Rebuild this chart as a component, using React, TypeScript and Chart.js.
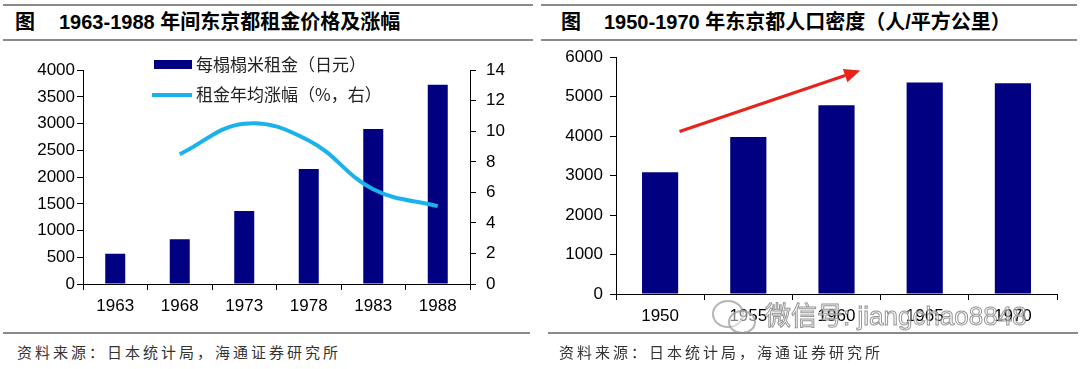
import React, { useEffect, useRef } from "react";
import { Chart, registerables } from "chart.js";

Chart.register(...registerables);

// ---------- data: left chart ----------
const rentYears = ["1963", "1968", "1973", "1978", "1983", "1988"];
const rentPerTatami = [566, 835, 1364, 2151, 2900, 3730];
const rentGrowth = [null, 8.5, 10.5, 9.4, 6.2, 5.1];
const rentLeftAxis = [0, 4000, 500];
const rentRightAxis = [0, 14, 2];
const rentLabels = ["每榻榻米租金（日元）", "租金年均涨幅（%，右）"];

// ---------- data: right chart ----------
const popYears = ["1950", "1955", "1960", "1965", "1970"];
const popDensity = [3084, 3975, 4782, 5362, 5337];
const popAxis = [0, 6000, 1000];
// arrow annotation in data space: [category index, value]
const arrowStart = [0.22, 4117];
const arrowEnd = [2.27, 5665];

const leftTitle = "1963-1988 年间东京都租金价格及涨幅";
const rightTitle = "1950-1970 年东京都人口密度（人/平方公里）";
const sourceText = "资料来源：日本统计局，海通证券研究所";
const watermark = "微信号: jiangchao8848";

const NAVY = "#000080";
const CYAN = "#1AB2EA";
const tickFont = { family: "'Liberation Sans', Arial, sans-serif", size: 17 };
const plain = (v: any) => String(v);

const legendPlugin = {
  id: "inlineLegend",
  afterDraw(chart: any) {
    const ctx = chart.ctx;
    const ds = chart.data.datasets;
    ctx.save();
    ctx.fillStyle = ds[0].backgroundColor;
    ctx.fillRect(154, 10, 38, 9);
    ctx.strokeStyle = ds[1].borderColor;
    ctx.lineWidth = 4;
    ctx.beginPath();
    ctx.moveTo(152, 45);
    ctx.lineTo(192, 45);
    ctx.stroke();
    ctx.fillStyle = "#222";
    ctx.font = "17px 'Noto Sans CJK SC', sans-serif";
    ctx.textBaseline = "middle";
    ctx.fillText(ds[0].label, 196, 15);
    ctx.fillText(ds[1].label, 196, 45);
    ctx.restore();
  },
};

const arrowPlugin = {
  id: "trendArrow",
  afterDatasetsDraw(chart: any) {
    const xs = chart.scales.x;
    const ys = chart.scales.y;
    const p0 = xs.getPixelForValue(0);
    const step = xs.getPixelForValue(1) - p0;
    const x1 = p0 + arrowStart[0] * step;
    const y1 = ys.getPixelForValue(arrowStart[1]);
    const x2 = p0 + arrowEnd[0] * step;
    const y2 = ys.getPixelForValue(arrowEnd[1]);
    const ang = Math.atan2(y2 - y1, x2 - x1);
    const headLen = 16;
    const headW = 7;
    const bx = x2 - headLen * Math.cos(ang);
    const by = y2 - headLen * Math.sin(ang);
    const ctx = chart.ctx;
    ctx.save();
    ctx.strokeStyle = "#E8231B";
    ctx.fillStyle = "#E8231B";
    ctx.lineWidth = 3;
    ctx.beginPath();
    ctx.moveTo(x1, y1);
    ctx.lineTo(bx, by);
    ctx.stroke();
    ctx.beginPath();
    ctx.moveTo(x2, y2);
    ctx.lineTo(bx + headW * Math.sin(ang), by - headW * Math.cos(ang));
    ctx.lineTo(bx - headW * Math.sin(ang), by + headW * Math.cos(ang));
    ctx.closePath();
    ctx.fill();
    ctx.restore();
  },
};

function axisCommon() {
  return {
    grid: { drawOnChartArea: false, color: "#000", tickLength: 6, lineWidth: 1 },
    border: { color: "#000", width: 1 },
  };
}

function LeftChart() {
  const ref = useRef<HTMLCanvasElement>(null);
  useEffect(() => {
    const chart = new Chart(ref.current!, {
      type: "bar",
      data: {
        labels: rentYears,
        datasets: [
          {
            type: "bar",
            label: rentLabels[0],
            data: rentPerTatami,
            backgroundColor: NAVY,
            yAxisID: "y",
            barPercentage: 0.31,
            categoryPercentage: 1,
            order: 2,
          },
          {
            type: "line",
            label: rentLabels[1],
            data: rentGrowth as any,
            borderColor: CYAN,
            backgroundColor: CYAN,
            borderWidth: 4,
            pointRadius: 0,
            tension: 0.4,
            yAxisID: "y1",
            order: 1,
          },
        ] as any,
      },
      options: {
        responsive: false,
        animation: false,
        devicePixelRatio: 1,
        layout: { padding: { top: 17, bottom: 0, left: 0, right: 0 } },
        plugins: { legend: { display: false }, tooltip: { enabled: false } },
        scales: {
          x: {
            ...axisCommon(),
            grid: { ...axisCommon().grid, offset: true },
            ticks: { color: "#000", font: tickFont, padding: 6, maxRotation: 0 },
            afterFit: (s: any) => {
              s.height = 36;
            },
          },
          y: {
            ...axisCommon(),
            position: "left",
            min: rentLeftAxis[0],
            max: rentLeftAxis[1],
            ticks: { stepSize: rentLeftAxis[2], color: "#000", font: tickFont, padding: 2, callback: plain },
            afterFit: (s: any) => {
              s.width = 83;
            },
          },
          y1: {
            ...axisCommon(),
            position: "right",
            min: rentRightAxis[0],
            max: rentRightAxis[1],
            ticks: { stepSize: rentRightAxis[2], color: "#000", font: tickFont, padding: 10, callback: plain },
            afterFit: (s: any) => {
              s.width = 70;
            },
          },
        } as any,
      },
      plugins: [legendPlugin],
    });
    return () => chart.destroy();
  }, []);
  return (
    <canvas
      ref={ref}
      width={540}
      height={270}
      style={{ position: "absolute", left: 0, top: 50, width: 540, height: 270 }}
    />
  );
}

function RightChart() {
  const ref = useRef<HTMLCanvasElement>(null);
  useEffect(() => {
    const chart = new Chart(ref.current!, {
      type: "bar",
      data: {
        labels: popYears,
        datasets: [
          {
            label: "人口密度",
            data: popDensity,
            backgroundColor: NAVY,
            barPercentage: 0.41,
            categoryPercentage: 1,
          },
        ],
      },
      options: {
        responsive: false,
        animation: false,
        devicePixelRatio: 1,
        layout: { padding: { top: 16, bottom: 0, left: 0, right: 23 } },
        plugins: { legend: { display: false }, tooltip: { enabled: false } },
        scales: {
          x: {
            ...axisCommon(),
            grid: { ...axisCommon().grid, offset: true },
            ticks: { color: "#000", font: tickFont, padding: 6, maxRotation: 0 },
            afterFit: (s: any) => {
              s.height = 36;
            },
          },
          y: {
            ...axisCommon(),
            position: "left",
            min: popAxis[0],
            max: popAxis[1],
            ticks: { stepSize: popAxis[2], color: "#000", font: tickFont, padding: 7, callback: plain },
            afterFit: (s: any) => {
              s.width = 76;
            },
          },
        } as any,
      },
      plugins: [arrowPlugin],
    });
    return () => chart.destroy();
  }, []);
  return (
    <canvas
      ref={ref}
      width={540}
      height={290}
      style={{ position: "absolute", left: 540, top: 40, width: 540, height: 290 }}
    />
  );
}

const rule = (left: number, top: number, width: number) => (
  <div
    style={{
      position: "absolute",
      left,
      top,
      width,
      height: 2,
      background: "#8a8a8a",
    }}
  />
);

const titleStyle: React.CSSProperties = {
  position: "absolute",
  top: 8,
  fontFamily: "'Liberation Sans', 'Noto Sans CJK SC', sans-serif",
  fontWeight: "bold",
  fontSize: 20,
  lineHeight: "28px",
  color: "#000",
  whiteSpace: "nowrap",
};

const sourceStyle: React.CSSProperties = {
  position: "absolute",
  top: 341,
  fontFamily: "'Noto Sans CJK SC', sans-serif",
  fontSize: 15,
  lineHeight: "22px",
  letterSpacing: 3,
  color: "#333",
  whiteSpace: "nowrap",
};

export default function App() {
  return (
    <div
      style={{
        position: "fixed",
        left: 0,
        top: 0,
        width: 1080,
        height: 369,
        background: "#fff",
        overflow: "hidden",
      }}
    >
      {rule(3, 4, 530)}
      {rule(3, 39, 530)}
      {rule(541, 4, 536)}
      {rule(541, 39, 536)}
      <div style={{ ...titleStyle, left: 15 }}>图</div>
      <div style={{ ...titleStyle, left: 59 }}>{leftTitle}</div>
      <div style={{ ...titleStyle, left: 561 }}>图</div>
      <div style={{ ...titleStyle, left: 604 }}>{rightTitle}</div>
      <LeftChart />
      <RightChart />
      <div
        style={{
          position: "absolute",
          left: 712,
          top: 300,
          width: 28,
          height: 24,
          borderRadius: "50%",
          border: "2px solid rgba(150,150,150,0.7)",
        }}
      />
      <div
        style={{
          position: "absolute",
          left: 728,
          top: 310,
          width: 24,
          height: 20,
          borderRadius: "50%",
          border: "2px solid rgba(150,150,150,0.7)",
          background: "rgba(255,255,255,0.5)",
        }}
      />
      <div
        style={{
          position: "absolute",
          left: 765,
          top: 300,
          fontFamily: "'Liberation Sans', 'Noto Sans CJK SC', sans-serif",
          fontSize: 26,
          lineHeight: "32px",
          color: "rgba(255,255,255,0.55)",
          WebkitTextStroke: "1px rgba(130,130,130,0.85)",
          whiteSpace: "nowrap",
        }}
      >
        {watermark}
      </div>
      {rule(3, 332, 527)}
      {rule(548, 332, 530)}
      <div style={{ ...sourceStyle, left: 17 }}>{sourceText}</div>
      <div style={{ ...sourceStyle, left: 559 }}>{sourceText}</div>
    </div>
  );
}
